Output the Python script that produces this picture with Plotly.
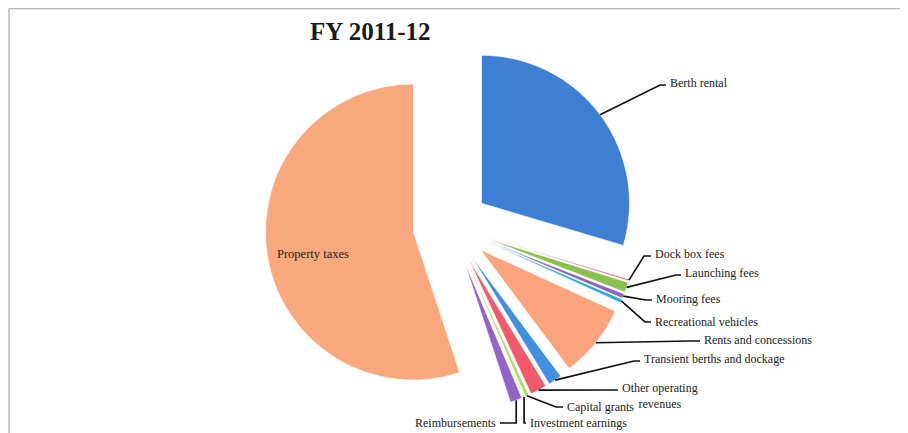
import math
import plotly.graph_objects as go

# ---- data ----
categories = ["Berth rental", "Dock box fees", "Launching fees", "Mooring fees",
              "Recreational vehicles", "Rents and concessions",
              "Transient berths and dockage", "Other operating revenues",
              "Capital grants", "Investment earnings", "Reimbursements",
              "Property taxes"]
shares = [29.6, 0.2, 1.1, 0.5, 0.4, 8.0, 1.5, 1.8, 0.4, 0.15, 1.3, 55.05]
colors = ["#3d80d3", "#d9708f", "#8cc04c", "#8c63c3", "#28a8dc", "#f9a47c",
          "#3f90e0", "#f25a6c", "#a6dc6a", "#eef2b0", "#9263c9", "#f9a77c"]
title_text = "FY 2011-12"

W, H = 908, 433
OFFX, OFFY = 8, 9          # page offset of the plot div
PULL = 0.257
CX, CY = 451, 227          # pie centre in (screen) pixels
R = 148                    # pie radius in pixels
half = R * (1 + PULL)

def px(x):
    return (x - OFFX) / W

def py(y):
    return 1 - (y - OFFY) / H

fig = go.Figure(go.Pie(
    labels=categories, values=shares, sort=False, direction="clockwise",
    rotation=0, pull=[PULL] * len(shares), textinfo="none",
    hoverinfo="label+percent",
    marker=dict(colors=colors, line=dict(color="white", width=0.6)),
    domain=dict(x=[px(CX - half), px(CX + half)], y=[py(CY + half), py(CY - half)]),
    showlegend=False,
))

# anchor points on each slice's outer arc (computed from the data)
total = sum(shares)
anchors = {}
cum = 0.0
for name, v in zip(categories, shares):
    mid = (cum + v / 2) / total * 2 * math.pi
    cum += v
    ux, uy = math.sin(mid), -math.cos(mid)
    anchors[name] = (CX + ux * R * (1 + PULL), CY + uy * R * (1 + PULL))

# label layout: text x, text y, anchor side, elbow (x or None = anchor x, y), line end x
label_layout = {
    "Berth rental": (668, 84, "left", (660, 86), 666),
    "Dock box fees": (653, 255, "left", (644, 257), 651),
    "Launching fees": (683, 274, "left", (676, 276), 681),
    "Mooring fees": (654, 300, "left", (646, 301), 652),
    "Recreational vehicles": (653, 323, "left", (645, 323), 651),
    "Rents and concessions": (702, 341, "left", (690, 342), 700),
    "Transient berths and dockage": (642, 360, "left", (634, 362), 640),
    "Capital grants": (565, 408, "left", (556, 408), 563),
    "Investment earnings": (528, 424, "left", (None, 424), 526),
    "Reimbursements": (498, 424, "right", (None, 424), 500),
}

shapes = []
annotations = []
font = dict(family="Liberation Serif, Times New Roman, serif", size=12, color="#222222")

for name, (tx, ty, side, (ex, ey), endx) in label_layout.items():
    ax, ay = anchors[name]
    if ex is None:
        ex = ax
    path = f"M {px(ax)} {py(ay)} L {px(ex)} {py(ey)} L {px(endx)} {py(ey)}"
    shapes.append(dict(type="path", xref="paper", yref="paper", path=path,
                       line=dict(color="#111111", width=1.7)))
    annotations.append(dict(x=px(tx), y=py(ty), xref="paper", yref="paper",
                            text=name, showarrow=False, font=font,
                            xanchor=side, yanchor="middle"))

# Other operating revenues (two-line label)
ax, ay = anchors["Other operating revenues"]
shapes.append(dict(type="path", xref="paper", yref="paper",
                   path=f"M {px(ax)} {py(ay)} L {px(610)} {py(391)} L {px(618)} {py(391)}",
                   line=dict(color="#111111", width=1.7)))
annotations.append(dict(x=px(660), y=py(397), xref="paper", yref="paper",
                        text="Other operating<br>revenues", showarrow=False, font=font,
                        align="center", xanchor="center", yanchor="middle"))

# Property taxes inside label
annotations.append(dict(x=px(275), y=py(255), xref="paper", yref="paper",
                        text="Property taxes", showarrow=False,
                        font=dict(family="Liberation Serif, Times New Roman, serif",
                                  size=12.5, color="#222222"),
                        xanchor="left", yanchor="middle"))

# title
annotations.append(dict(x=px(370), y=py(33), xref="paper", yref="paper",
                        text=f"<b>{title_text}</b>", showarrow=False,
                        font=dict(family="Liberation Serif, Times New Roman, serif",
                                  size=25, color="#1a1a1a"),
                        xanchor="center", yanchor="middle"))

# frame lines
shapes.append(dict(type="line", xref="paper", yref="paper", x0=px(9), y0=py(9.5),
                   x1=1, y1=py(9.5), line=dict(color="#b8b8b8", width=1.5)))
shapes.append(dict(type="line", xref="paper", yref="paper", x0=px(9), y0=py(9.5),
                   x1=px(9), y1=0, line=dict(color="#b8b8b8", width=1.5)))

fig.update_layout(width=W, height=H, margin=dict(l=0, r=0, t=0, b=0),
                  paper_bgcolor="white", plot_bgcolor="white",
                  shapes=shapes, annotations=annotations)

fig.write_html("out.html")
